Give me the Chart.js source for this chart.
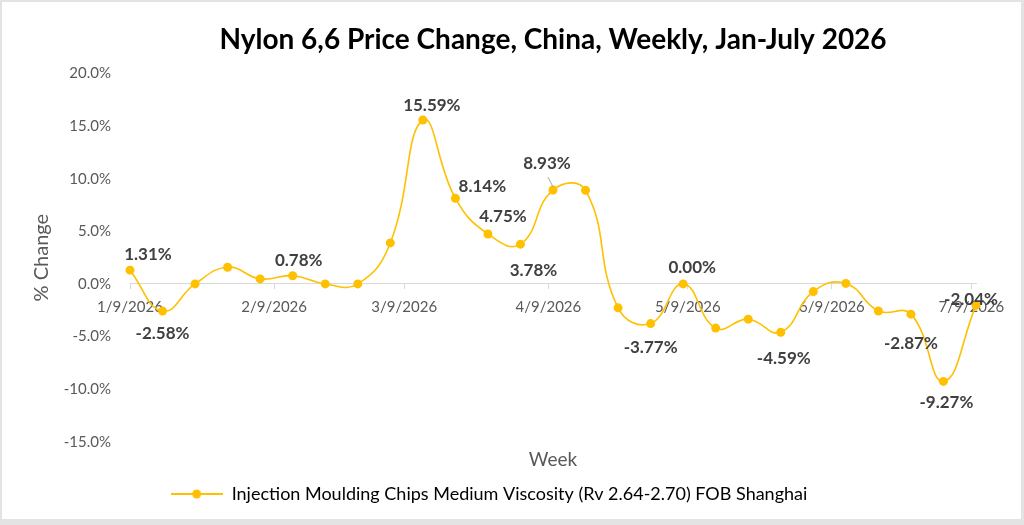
<!DOCTYPE html>
<html>
<head>
<meta charset="utf-8">
<script src="https://cdn.jsdelivr.net/npm/chart.js@4.4.1/dist/chart.umd.min.js"></script>
<style>
  html, body { margin: 0; padding: 0; background: #e3e3e3; }
</style>
</head>
<body>
<canvas id="myChart" width="1024" height="525"></canvas>
<script>
// weekly observations (Fridays)
const weeks = [
  '2026-01-09', '2026-01-16', '2026-01-23', '2026-01-30',
  '2026-02-06', '2026-02-13', '2026-02-20', '2026-02-27',
  '2026-03-06', '2026-03-13', '2026-03-20', '2026-03-27',
  '2026-04-03', '2026-04-10', '2026-04-17', '2026-04-24',
  '2026-05-01', '2026-05-08', '2026-05-15', '2026-05-22', '2026-05-29',
  '2026-06-05', '2026-06-12', '2026-06-19', '2026-06-26',
  '2026-07-03', '2026-07-10'
];
const priceChange = [
  1.31, -2.58, 0.00, 1.59,
  0.48, 0.78, 0.00, 0.00,
  3.90, 15.59, 8.14, 4.75,
  3.78, 8.93, 8.90, -2.27,
  -3.77, 0.00, -4.20, -3.35, -4.59,
  -0.73, 0.05, -2.57, -2.87,
  -9.27, -2.04
];
const tickDates = ['2026-01-09', '2026-02-09', '2026-03-09', '2026-04-09', '2026-05-09', '2026-06-09', '2026-07-09'];
const tickLabels = ['1/9/2026', '2/9/2026', '3/9/2026', '4/9/2026', '5/9/2026', '6/9/2026', '7/9/2026'];
const yTicks = [-15, -10, -5, 0, 5, 10, 15, 20];
const seriesName = 'Injection Moulding Chips Medium Viscosity (Rv 2.64-2.70) FOB Shanghai';

// which points carry a value label, and where it sits relative to the point
const labelOffsets = {
  0: [18, -16], 1: [0, 22], 5: [6, -15], 9: [9, -14], 10: [27, -12],
  11: [15, -17], 12: [13, 26], 13: [-6, -27], 16: [0, 24], 17: [9, -16],
  20: [3, 26], 24: [0, 29], 25: [3, 21], 26: [-5, -6]
};

const dayOf = s => (Date.parse(s) - Date.parse(weeks[0])) / 86400000;
const gold = '#FFC000';

// legend symbol: line with a dot
const legendIcon = document.createElement('canvas');
legendIcon.width = 52; legendIcon.height = 12;
(function () {
  const c = legendIcon.getContext('2d');
  c.strokeStyle = gold; c.lineWidth = 2;
  c.beginPath(); c.moveTo(0, 6); c.lineTo(52, 6); c.stroke();
  c.fillStyle = gold;
  c.beginPath(); c.arc(26, 6, 4.5, 0, Math.PI * 2); c.fill();
})();

const framePlugin = {
  id: 'frame',
  beforeDraw(chart) {
    const ctx = chart.ctx;
    ctx.save();
    ctx.fillStyle = '#e3e3e3';
    ctx.fillRect(0, 0, chart.width, chart.height);
    ctx.fillStyle = '#ffffff';
    ctx.fillRect(2, 2, 1019, 517);
    ctx.restore();
  }
};

const valueLabels = {
  id: 'valueLabels',
  afterDatasetsDraw(chart) {
    const ctx = chart.ctx;
    const meta = chart.getDatasetMeta(0);
    ctx.save();
    ctx.font = 'bold 17px Lato';
    ctx.fillStyle = '#404040';
    ctx.textAlign = 'center';
    ctx.textBaseline = 'middle';
    Object.keys(labelOffsets).forEach(k => {
      const i = +k;
      const pt = meta.data[i];
      const [dx, dy] = labelOffsets[k];
      if (i === 13) {
        ctx.strokeStyle = '#a6a6a6';
        ctx.lineWidth = 1;
        ctx.beginPath();
        ctx.moveTo(pt.x - 5, pt.y - 13);
        ctx.lineTo(pt.x, pt.y - 3);
        ctx.stroke();
      }
      ctx.fillText(priceChange[i].toFixed(2) + '%', pt.x + dx, pt.y + dy);
    });
    ctx.restore();
  }
};

Chart.defaults.font.family = 'Lato';
Chart.defaults.color = '#595959';

const config = {
  type: 'line',
  data: {
    datasets: [{
      label: seriesName,
      data: weeks.map((w, i) => ({ x: dayOf(w), y: priceChange[i] })),
      borderColor: gold,
      backgroundColor: gold,
      borderWidth: 1.6,
      pointRadius: 4.5,
      pointBackgroundColor: gold,
      pointBorderColor: gold,
      pointBorderWidth: 0,
      tension: 0.45,
      clip: false
    }]
  },
  options: {
    responsive: false,
    animation: false,
    layout: {
      padding: { left: 2, right: 48, top: 2, bottom: 12 }
    },
    scales: {
      x: {
        type: 'linear',
        position: { y: 0 },
        min: 0,
        max: 182,
        afterBuildTicks: axis => {
          axis.ticks = tickDates.map(d => ({ value: dayOf(d) }));
        },
        ticks: {
          autoSkip: false,
          maxRotation: 0,
          padding: 9,
          font: { size: 15 },
          color: '#595959',
          callback: v => tickLabels[tickDates.map(dayOf).indexOf(v)]
        },
        grid: { drawOnChartArea: false, drawTicks: true, tickLength: 5, color: '#d9d9d9' },
        border: { color: '#d9d9d9', width: 1 }
      },
      x2: {
        type: 'linear',
        position: 'bottom',
        ticks: { display: false },
        grid: { display: false, drawTicks: false },
        border: { display: false },
        title: {
          display: true,
          text: 'Week',
          font: { size: 19 },
          color: '#595959',
          padding: { top: 7, bottom: 3.5 }
        }
      },
      y: {
        min: -15,
        max: 20,
        afterBuildTicks: axis => {
          axis.ticks = yTicks.map(v => ({ value: v }));
        },
        afterFit: scale => { scale.width = 128; },
        ticks: {
          padding: 19,
          font: { size: 15 },
          color: '#595959',
          callback: v => v.toFixed(1) + '%'
        },
        grid: { display: false, drawTicks: false },
        border: { display: false },
        title: {
          display: true,
          text: '% Change',
          font: { size: 20 },
          color: '#595959',
          padding: { top: 28, bottom: 0 }
        }
      }
    },
    plugins: {
      title: {
        display: true,
        fullSize: false,
        text: 'Nylon 6,6 Price Change, China, Weekly, Jan-July 2026',
        color: '#000000',
        font: { size: 28, weight: 'bold' },
        padding: { top: 21, bottom: 17 }
      },
      legend: {
        position: 'bottom',
        labels: {
          usePointStyle: true,
          pointStyleWidth: 52,
          padding: 10,
          font: { size: 18 },
          color: '#595959',
          generateLabels: chart => [{
            text: seriesName,
            pointStyle: legendIcon,
            fillStyle: gold,
            strokeStyle: gold,
            lineWidth: 0,
            hidden: false,
            datasetIndex: 0
          }]
        }
      },
      tooltip: { enabled: false }
    }
  },
  plugins: [framePlugin, valueLabels]
};

const myChart = new Chart(
  document.getElementById('myChart'),
  config
);
</script>
</body>
</html>
